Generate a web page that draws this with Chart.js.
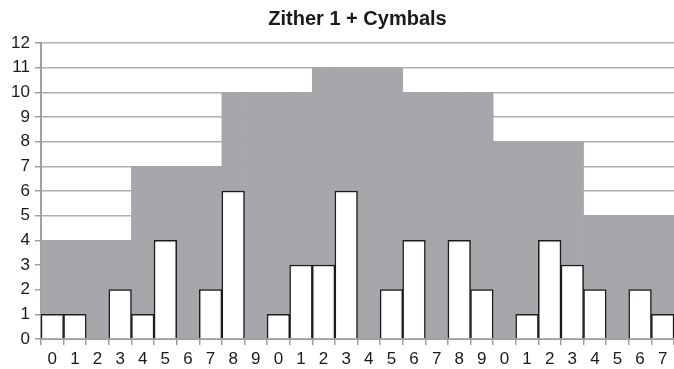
<!DOCTYPE html>
<html>
<head>
<meta charset="utf-8">
<script src="https://cdn.jsdelivr.net/npm/chart.js@4/dist/chart.umd.min.js"></script>
<style>
  html, body { margin: 0; padding: 0; background: #fff; }
  #wrap { width: 674px; height: 369px; }
</style>
</head>
<body>
<div id="wrap"><canvas id="zither-chart"></canvas></div>
<script>
const labels = ['0','1','2','3','4','5','6','7','8','9',
                '0','1','2','3','4','5','6','7','8','9',
                '0','1','2','3','4','5','6','7']
const zitherCymbals = [1,1,0,2,1,4,0,2,6,0, 1,3,3,6,0,2,4,0,4,2, 0,1,4,3,2,0,2,1]
const ceiling = [4,4,4,4,7,7,7,7,10,10,10,10,11,11,11,11,10,10,10,10,8,8,8,8,5,5,5,5]
const yTicks = [0,1,2,3,4,5,6,7,8,9,10,11,12]

// center the title over the plot area, not the whole canvas
const titleOverPlot = {
    id: 'titleOverPlot',
    afterLayout(chart) {
        if (chart.titleBlock) {
            chart.titleBlock.left = chart.chartArea.left
            chart.titleBlock.right = chart.chartArea.right
        }
    }
}

const font = "'Liberation Sans', Arial, Helvetica, sans-serif"

let chart = new Chart(document.getElementById('zither-chart'), {
    type: 'bar',
    data: {
        labels: labels,
        datasets: [{
            label: 'Zither 1 + Cymbals',
            data: zitherCymbals,
            backgroundColor: '#ffffff',
            borderColor: '#1c1c1c',
            borderWidth: 1.5,
            grouped: false,
            categoryPercentage: 1,
            barPercentage: 1,
            order: 1
        }, {
            label: 'ceiling',
            data: ceiling,
            backgroundColor: '#a6a7aa',
            borderColor: '#a6a7aa',
            borderWidth: 0,
            grouped: false,
            categoryPercentage: 1,
            barPercentage: 1,
            order: 2
        }]
    },
    options: {
        responsive: true,
        maintainAspectRatio: false,
        animation: false,
        plugins: {
            legend: { display: false },
            tooltip: { enabled: false },
            title: {
                display: true,
                text: 'Zither 1 + Cymbals',
                color: '#1a1a1a',
                font: { family: font, size: 20, weight: 'bold' },
                padding: { top: 7, bottom: 12 }
            }
        },
        scales: {
            x: {
                offset: true,
                grid: {
                    offset: true,
                    drawOnChartArea: false,
                    tickLength: 6,
                    tickColor: '#a0a0a0',
                    lineWidth: 1.5
                },
                border: { color: '#a0a0a0', width: 2 },
                ticks: {
                    color: '#1a1a1a',
                    font: { family: font, size: 17 },
                    padding: 4,
                    maxRotation: 0,
                    autoSkip: false
                },
                afterFit(scale) { scale.height = 30 }
            },
            y: {
                min: 0,
                max: 12,
                afterBuildTicks(scale) { scale.ticks = yTicks.map(v => ({ value: v })) },
                grid: {
                    color: '#b0b0b0',
                    lineWidth: 1.5,
                    tickLength: 6,
                    tickColor: '#a0a0a0'
                },
                border: { color: '#a0a0a0', width: 2 },
                ticks: {
                    color: '#1a1a1a',
                    font: { family: font, size: 17 },
                    padding: 5
                },
                afterFit(scale) { scale.width = 41 }
            }
        }
    },
    plugins: [titleOverPlot]
})
</script>
</body>
</html>
